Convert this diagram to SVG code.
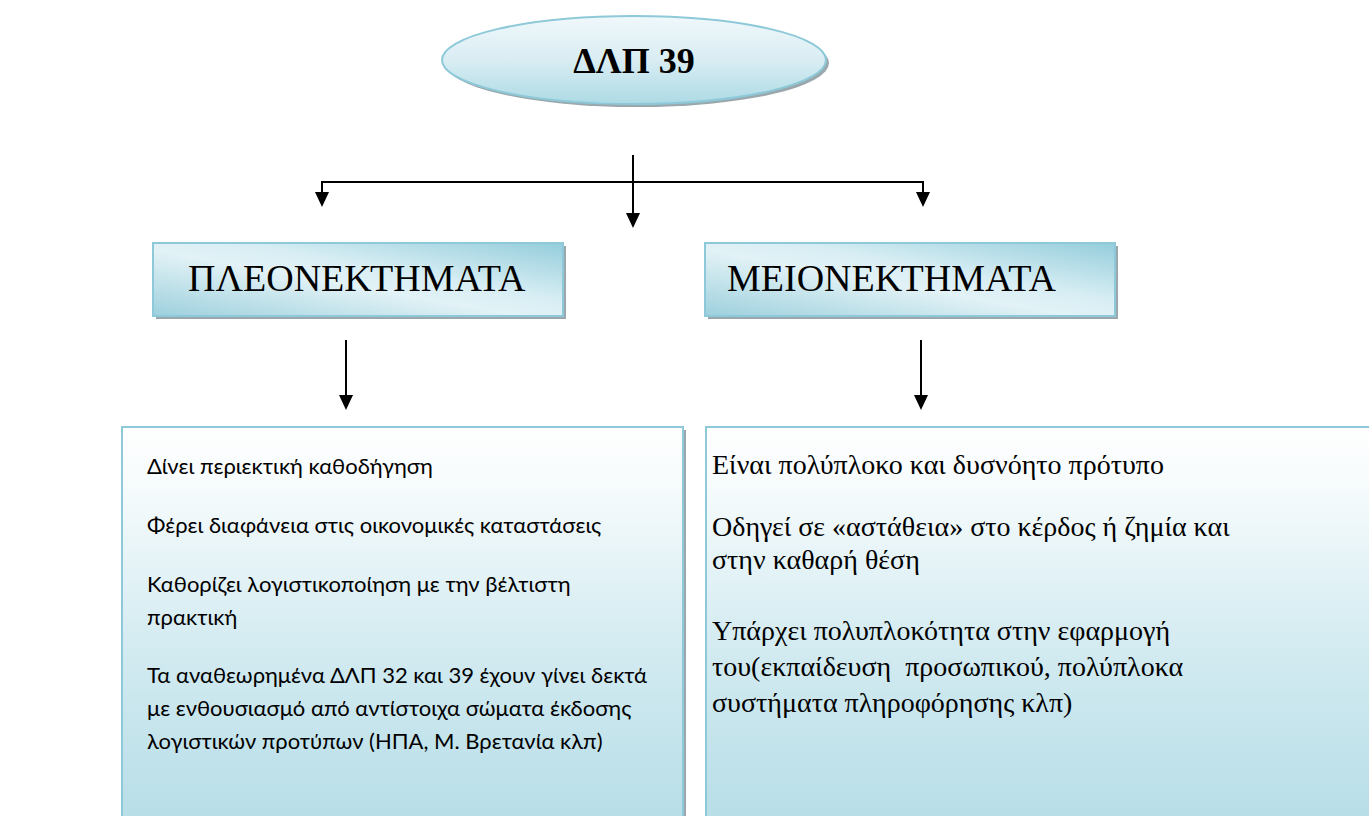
<svg xmlns="http://www.w3.org/2000/svg" width="1369" height="816" viewBox="0 0 1369 816">
<style>
.conn{stroke:#000;stroke-width:2;fill:none}
.head{fill:#000}
.shadow{fill:#9aa8ad}
.bord{stroke:#8dc9d8;stroke-width:2}
.title{font-family:"Liberation Serif",serif;font-weight:bold;font-size:36px;fill:#000}
.hdr{font-family:"Liberation Serif",serif;font-size:38px;fill:#000}
.ltxt{font-family:Lato,"Open Sans",sans-serif;font-size:22px;fill:#000}
.rtxt{font-family:"Liberation Serif",serif;font-size:28px;fill:#000;white-space:pre}
</style>
<defs>
<linearGradient id="gEll" x1="0" y1="0" x2="0" y2="1">
<stop offset="0" stop-color="#f0f8fb"/>
<stop offset="0.5" stop-color="#d9edf3"/>
<stop offset="1" stop-color="#addae5"/>
</linearGradient>
<linearGradient id="gHdr" x1="0" y1="1" x2="1" y2="0">
<stop offset="0" stop-color="#9dd0dd"/>
<stop offset="0.45" stop-color="#e2f2f6"/>
<stop offset="0.6" stop-color="#d8eef4"/>
<stop offset="1" stop-color="#94cddb"/>
</linearGradient>
<linearGradient id="gBig" x1="0" y1="0" x2="0" y2="1">
<stop offset="0" stop-color="#ffffff"/>
<stop offset="0.15" stop-color="#f6fbfc"/>
<stop offset="0.55" stop-color="#d3ebf1"/>
<stop offset="1" stop-color="#b6dde7"/>
</linearGradient>
</defs>

<g id="node-dlp39">
<ellipse class="shadow" cx="637" cy="63" rx="192" ry="44"/>
<ellipse cx="634" cy="60" rx="192" ry="44" fill="url(#gEll)" class="bord"/>
<text class="title" x="634" y="73" text-anchor="middle">ΔΛΠ 39</text>
</g>

<g id="node-pleonektimata">
<rect class="shadow" x="156" y="246" width="410" height="73"/>
<rect x="153" y="243" width="410" height="73" fill="url(#gHdr)" class="bord"/>
<text class="hdr" x="188" y="291">ΠΛΕΟΝΕΚΤΗΜΑΤΑ</text>
</g>

<g id="node-meionektimata">
<rect class="shadow" x="708" y="246" width="410" height="73"/>
<rect x="705" y="243" width="410" height="73" fill="url(#gHdr)" class="bord"/>
<text class="hdr" x="727" y="291">ΜΕΙΟΝΕΚΤΗΜΑΤΑ</text>
</g>

<g id="node-pleon-list">
<rect class="shadow" x="125" y="430" width="561" height="400"/>
<rect x="122" y="427" width="561" height="400" fill="url(#gBig)" class="bord"/>
<text class="ltxt" x="147" y="474">Δίνει περιεκτική καθοδήγηση</text>
<text class="ltxt" x="147" y="533">Φέρει διαφάνεια στις οικονομικές καταστάσεις</text>
<text class="ltxt" x="147" y="592">Καθορίζει λογιστικοποίηση με την βέλτιστη</text>
<text class="ltxt" x="147" y="625">πρακτική</text>
<text class="ltxt" x="147" y="683">Τα αναθεωρημένα ΔΛΠ 32 και 39 έχουν γίνει δεκτά</text>
<text class="ltxt" x="147" y="716">με ενθουσιασμό από αντίστοιχα σώματα έκδοσης</text>
<text class="ltxt" x="147" y="749">λογιστικών προτύπων (ΗΠΑ, Μ. Βρετανία κλπ)</text>
</g>

<g id="node-meion-list">
<rect x="706" y="427" width="680" height="400" fill="url(#gBig)" class="bord"/>
<text class="rtxt" x="712" y="474">Είναι πολύπλοκο και δυσνόητο πρότυπο</text>
<text class="rtxt" x="712" y="536">Οδηγεί σε «αστάθεια» στο κέρδος ή ζημία και</text>
<text class="rtxt" x="712" y="569">στην καθαρή θέση</text>
<text class="rtxt" x="712" y="640">Υπάρχει πολυπλοκότητα στην εφαρμογή</text>
<text class="rtxt" x="712" y="676" xml:space="preserve">του(εκπαίδευση  προσωπικού, πολύπλοκα</text>
<text class="rtxt" x="712" y="712">συστήματα πληροφόρησης κλπ)</text>
</g>

<g id="connectors">
<line class="conn" x1="322" y1="182" x2="923" y2="182"/>
<line class="conn" x1="322" y1="181" x2="322" y2="195"/>
<polygon class="head" points="315,192 329,192 322,207"/>
<line class="conn" x1="923" y1="181" x2="923" y2="195"/>
<polygon class="head" points="916,192 930,192 923,207"/>
<line class="conn" x1="633" y1="155" x2="633" y2="215"/>
<polygon class="head" points="626,213 640,213 633,228"/>
<line class="conn" x1="346" y1="340" x2="346" y2="398"/>
<polygon class="head" points="339,395 353,395 346,410"/>
<line class="conn" x1="921" y1="340" x2="921" y2="398"/>
<polygon class="head" points="914,395 928,395 921,410"/>
</g>
</svg>
